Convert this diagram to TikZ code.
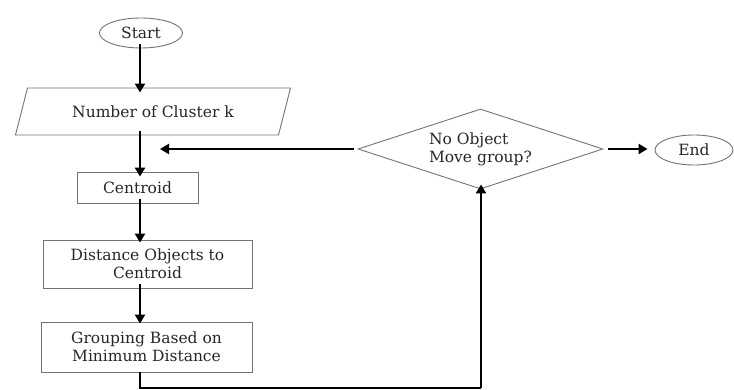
\documentclass[tikz,border=0pt]{standalone}
\usepackage{fontspec}
\setmainfont{DejaVu Serif}
\usetikzlibrary{shapes.geometric,arrows.meta}
\begin{document}
\begin{tikzpicture}[x=1pt,y=-1pt,
  font=\fontsize{15.5}{18}\selectfont,
  text=black!85,
  shp/.style={draw=black!55,line width=0.9pt,inner sep=0pt},
  boxnode/.style={shp,rectangle,align=center},
  ovalnode/.style={shp,ellipse},
  arr/.style={line width=2.6pt,-{Triangle[length=9pt,width=10pt]}},
  loopline/.style={line width=2.6pt,line join=miter}]
\useasboundingbox (0,0) rectangle (734,390);
\coordinate (ax) at (140,0);
\node[ovalnode,minimum width=83pt,minimum height=30pt] (start) at (141,33) {Start};
\node[shp,trapezium,trapezium left angle=45,trapezium right angle=135,
  trapezium stretches body,minimum width=275pt,minimum height=47pt] (num) at (153,111.5) {Number of Cluster k};
\node[boxnode,minimum width=121pt,minimum height=31pt] (cen) at (137.5,187.5) {Centroid};
\node[boxnode,minimum width=209pt,minimum height=48pt] (dist) at (147.5,264) {Distance Objects to\\Centroid};
\node[boxnode,minimum width=211pt,minimum height=50pt] (grp) at (146.5,347) {Grouping Based on\\Minimum Distance};
\node[shp,diamond,shape aspect=3,minimum width=245pt,minimum height=80pt,align=left] (dec) at (480.5,149) {No Object\\Move group?};
\node[ovalnode,minimum width=78pt,minimum height=30pt] (end) at (694,150) {End};
\coordinate (fb) at (160,149);
\coordinate (bl) at (140,388);
\coordinate (br) at (481,388);
\draw[arr] ([yshift=4pt]start.south -| ax) -- ([yshift=-5pt]num.north -| ax);
\draw[arr] ([yshift=4pt]num.south -| ax) -- ([yshift=-5pt]cen.north -| ax);
\draw[arr] ([yshift=4pt]cen.south -| ax) -- ([yshift=-3pt]dist.north -| ax);
\draw[arr] ([yshift=4pt]dist.south -| ax) -- ([yshift=-2pt]grp.north -| ax);
\draw[arr] ([xshift=-4pt]dec.west) -- (fb);
\draw[arr] ([xshift=5pt]dec.east) -- ([xshift=-7pt]end.west |- dec.east);
\draw[loopline] (grp.south -| ax) -- (bl) -- (br);
\draw[arr] (br) -- ([yshift=5pt]dec.south -| br);
\end{tikzpicture}
\end{document}
